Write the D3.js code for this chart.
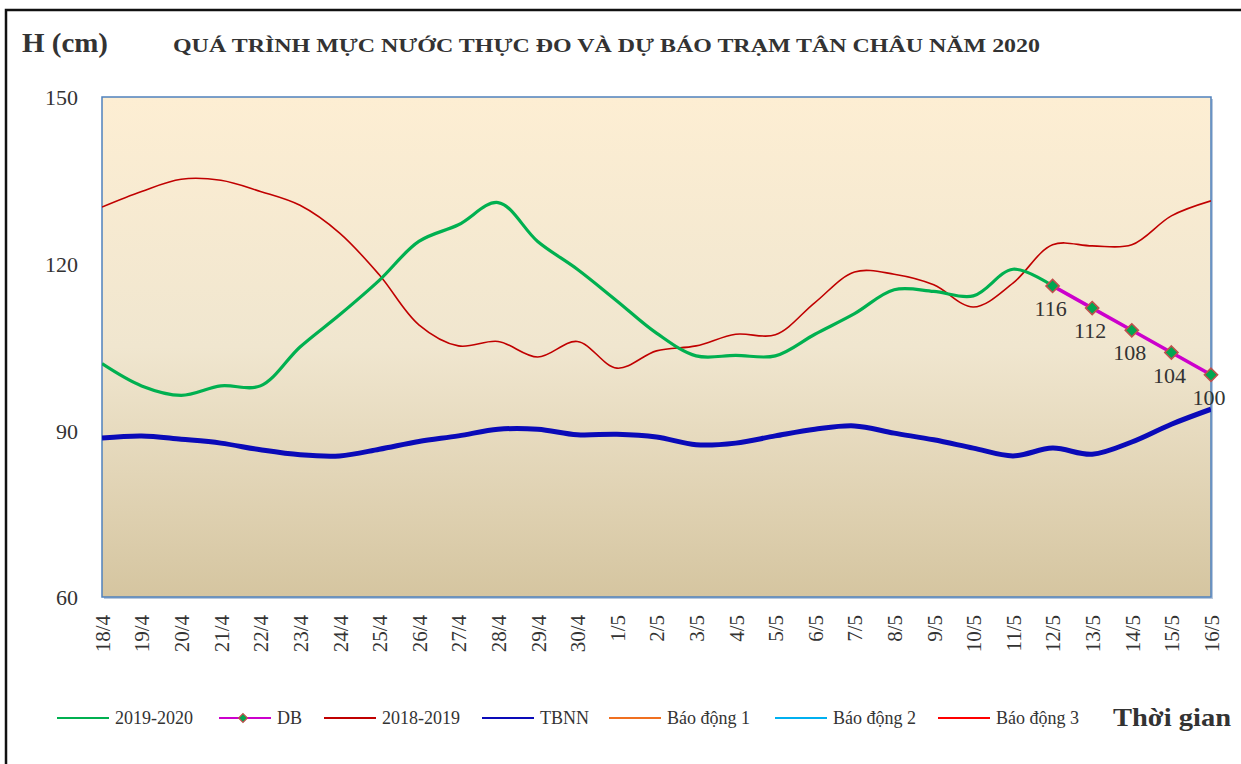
<!DOCTYPE html>
<html>
<head>
<meta charset="utf-8">
<script src="https://cdn.jsdelivr.net/npm/d3@7"></script>
<style>
  body { margin: 0; background: #fff; }
  svg { display: block; font-family: "Liberation Serif", "Times New Roman", serif; }
</style>
</head>
<body>
<script>
const days = ["18/4", "19/4", "20/4", "21/4", "22/4", "23/4", "24/4", "25/4", "26/4", "27/4",
  "28/4", "29/4", "30/4", "1/5", "2/5", "3/5", "4/5", "5/5", "6/5", "7/5", "8/5", "9/5",
  "10/5", "11/5", "12/5", "13/5", "14/5", "15/5", "16/5"]

// 2019-2020 measured, up to 12/5
const obs2020 = [102, 98, 96.3, 98, 98, 105, 110.8, 117, 124, 127, 131, 124, 119, 113.3,
  107.5, 103.4, 103.5, 103.4, 107.3, 111, 115.3, 115, 114.2, 119, 116]
// forecast 12/5 .. 16/5
const dbDays = ["12/5", "13/5", "14/5", "15/5", "16/5"]
const dbValues = [116, 112, 108, 104, 100]
const obs2019 = [130.2, 133, 135.2, 135, 133, 130.5, 125.5, 118, 109, 105.2, 106, 103.2, 106,
  101.2, 104.3, 105.2, 107.3, 107.2, 113, 118.5, 118.1, 116.2, 112.2, 116.5, 123.4, 123.2,
  123.4, 128.6, 131.3]
const tbnn = [88.6, 89, 88.4, 87.7, 86.5, 85.6, 85.4, 86.6, 88, 89, 90.2, 90.2, 89.2, 89.3,
  88.8, 87.4, 87.7, 89, 90.2, 90.8, 89.5, 88.3, 86.8, 85.4, 86.8, 85.7, 87.9, 91.1, 93.8]
// alarm levels (cm), above the plotted range
const alarmLevels = [350, 400, 450]
const yTicks = [60, 90, 120, 150]

const W = 1241, H = 764
const pLeft = 102, pRight = 1211, pTop = 97, pBottom = 597

const svg = d3.select("body").append("svg")
  .attr("width", W)
  .attr("height", H)

// outer frame
svg.append("rect")
  .attr("x", 6).attr("y", 10)
  .attr("width", W + 20).attr("height", H + 20)
  .attr("fill", "none")
  .attr("stroke", "#111")
  .attr("stroke-width", 2.5)

const x = d3.scalePoint().domain(days).range([pLeft, pRight])
const y = d3.scaleLinear().domain([60, 150]).range([pBottom, pTop])

const defs = svg.append("defs")
const grad = defs.append("linearGradient")
  .attr("id", "bg")
  .attr("x1", 0).attr("y1", 0).attr("x2", 0).attr("y2", 1)
grad.append("stop").attr("offset", "0%").attr("stop-color", "#fdeed3")
grad.append("stop").attr("offset", "50%").attr("stop-color", "#f0e6cf")
grad.append("stop").attr("offset", "100%").attr("stop-color", "#d5c5a0")

defs.append("clipPath").attr("id", "clip")
  .append("rect")
  .attr("x", pLeft).attr("y", pTop)
  .attr("width", pRight - pLeft).attr("height", pBottom - pTop)

// plot area shadow + fill
svg.append("rect")
  .attr("x", pLeft + 2).attr("y", pTop + 2)
  .attr("width", pRight - pLeft).attr("height", pBottom - pTop)
  .attr("fill", "#b8c8dc")
svg.append("rect")
  .attr("x", pLeft).attr("y", pTop)
  .attr("width", pRight - pLeft).attr("height", pBottom - pTop)
  .attr("fill", "url(#bg)")
  .attr("stroke", "#4f81bd")
  .attr("stroke-width", 1.5)

// y axis labels
const yAxis = d3.axisLeft(y).tickValues(yTicks).tickSize(0).tickPadding(24)
const gy = svg.append("g")
  .attr("transform", "translate(" + pLeft + ",0)")
  .call(yAxis)
gy.select(".domain").remove()
gy.selectAll("text")
  .attr("font-family", "Liberation Serif")
  .attr("font-size", 22)
  .attr("fill", "#333")
  .attr("dy", "0.35em")

// x axis labels, rotated
const xAxis = d3.axisBottom(x).tickSize(0)
const gx = svg.append("g")
  .attr("transform", "translate(0," + pBottom + ")")
  .call(xAxis)
gx.select(".domain").remove()
gx.selectAll("text")
  .attr("font-family", "Liberation Serif")
  .attr("font-size", 21)
  .attr("fill", "#333")
  .attr("text-anchor", "end")
  .attr("transform", "rotate(-90)")
  .attr("x", -18)
  .attr("y", 0)
  .attr("dy", "0.35em")

const plot = svg.append("g").attr("clip-path", "url(#clip)")

const smooth = d3.line()
  .x((d, i) => x(days[i]))
  .y(d => y(d))
  .curve(d3.curveCatmullRom.alpha(0.5))

// alarm levels (off scale, clipped)
const alarmColors = ["#f07020", "#00b0f0", "#ff0000"]
alarmLevels.forEach((lv, k) => {
  plot.append("path")
    .datum(days.map(() => lv))
    .attr("d", smooth)
    .attr("fill", "none")
    .attr("stroke", alarmColors[k])
    .attr("stroke-width", 2)
})

plot.append("path")
  .datum(tbnn)
  .attr("d", smooth)
  .attr("fill", "none")
  .attr("stroke", "#0a0ab8")
  .attr("stroke-width", 5)

plot.append("path")
  .datum(obs2019)
  .attr("d", smooth)
  .attr("fill", "none")
  .attr("stroke", "#c00000")
  .attr("stroke-width", 1.6)

plot.append("path")
  .datum(obs2020)
  .attr("d", smooth)
  .attr("fill", "none")
  .attr("stroke", "#00b050")
  .attr("stroke-width", 3.2)

// forecast
svg.append("path")
  .datum(dbValues)
  .attr("d", d3.line().x((d, i) => x(dbDays[i])).y(d => y(d)))
  .attr("fill", "none")
  .attr("stroke", "#cc00cc")
  .attr("stroke-width", 3.5)

const diamond = d3.symbol().type(d3.symbolDiamond2).size(110)
svg.selectAll(".db-pt")
  .data(dbValues)
  .enter()
  .append("path")
  .attr("class", "db-pt")
  .attr("d", diamond)
  .attr("transform", (d, i) => "translate(" + x(dbDays[i]) + "," + y(d) + ")")
  .attr("fill", "#00a651")
  .attr("stroke", "#c0504d")
  .attr("stroke-width", 1.6)

svg.selectAll(".db-lbl")
  .data(dbValues)
  .enter()
  .append("text")
  .attr("class", "db-lbl")
  .attr("x", (d, i) => x(dbDays[i]) - 2)
  .attr("y", d => y(d) + 30)
  .attr("text-anchor", "middle")
  .attr("font-size", 22)
  .attr("fill", "#333")
  .text(d => d)

// titles
svg.append("text")
  .attr("x", 22).attr("y", 52)
  .attr("font-size", 27)
  .attr("font-weight", "bold")
  .attr("fill", "#333")
  .attr("textLength", 86)
  .attr("lengthAdjust", "spacingAndGlyphs")
  .text("H (cm)")

svg.append("text")
  .attr("x", 173).attr("y", 52)
  .attr("font-size", 19)
  .attr("font-weight", "bold")
  .attr("fill", "#333")
  .attr("textLength", 867)
  .attr("lengthAdjust", "spacingAndGlyphs")
  .text("QUÁ TRÌNH MỰC NƯỚC THỰC ĐO VÀ DỰ BÁO TRẠM TÂN CHÂU NĂM 2020")

// legend
const legendItems = [
  { name: "2019-2020", color: "#00b050", x: 57, marker: false },
  { name: "DB", color: "#cc00cc", x: 219, marker: true },
  { name: "2018-2019", color: "#c00000", x: 324, marker: false },
  { name: "TBNN", color: "#0a0ab8", x: 482, marker: false },
  { name: "Báo động 1", color: "#f07020", x: 609, marker: false },
  { name: "Báo động 2", color: "#00b0f0", x: 775, marker: false },
  { name: "Báo động 3", color: "#ff0000", x: 938, marker: false }
]
const ly = 718
const lg = svg.append("g")
legendItems.forEach(it => {
  lg.append("line")
    .attr("x1", it.x).attr("x2", it.x + 52)
    .attr("y1", ly).attr("y2", ly)
    .attr("stroke", it.color)
    .attr("stroke-width", 2)
  if (it.marker) {
    lg.append("path")
      .attr("d", d3.symbol().type(d3.symbolDiamond2).size(50))
      .attr("transform", "translate(" + (it.x + 24) + "," + ly + ")")
      .attr("fill", "#00a651")
      .attr("stroke", "#c0504d")
      .attr("stroke-width", 1.2)
  }
  lg.append("text")
    .attr("x", it.x + 58).attr("y", ly + 6)
    .attr("font-size", 18)
    .attr("fill", "#333")
    .text(it.name)
})

svg.append("text")
  .attr("x", 1113).attr("y", 726)
  .attr("font-size", 26)
  .attr("font-weight", "bold")
  .attr("fill", "#333")
  .attr("textLength", 118)
  .attr("lengthAdjust", "spacingAndGlyphs")
  .text("Thời gian")
</script>
</body>
</html>
